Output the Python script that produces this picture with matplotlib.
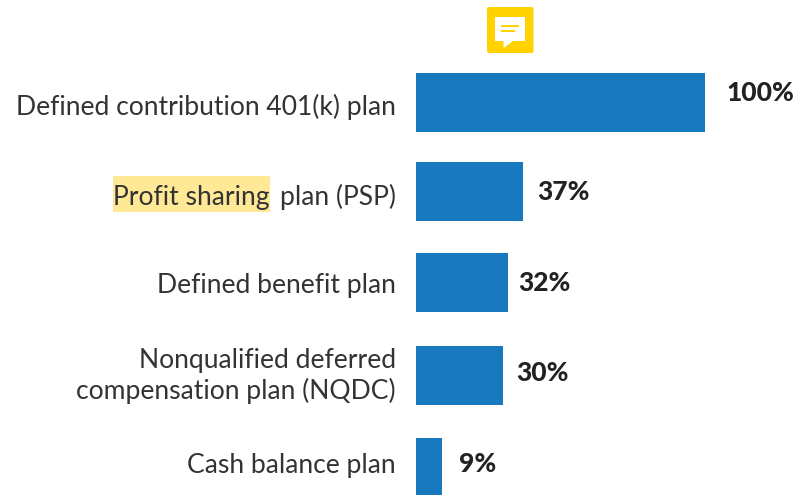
import matplotlib
matplotlib.use('Agg')
import matplotlib.pyplot as plt
from matplotlib.patches import FancyBboxPatch, Polygon, Rectangle
from matplotlib.transforms import Affine2D

labels = ['Defined contribution 401(k) plan', 'plan (PSP)', 'Defined benefit plan',
          'Nonqualified deferred\ncompensation plan (NQDC)', 'Cash balance plan']
values = [100, 37, 32, 30, 9]
value_labels = ['100%', '37%', '32%', '30%', '9%']
rows = [102.5, 191.5, 282.5, 375.5, 466.5]
heights = [59, 59, 59, 59, 57]
highlighted = 'Profit sharing'

# label placement, in pixels
label_y = [107, 197, 286, 376, 466]
value_y = [93, 192, 283, 373, 464]
value_gap = [21, 14, 10, 14, 17]

BLUE = '#1879BF'
INK = '#333333'
YELLOW = '#FFD200'
FS = 19.1

plt.rcParams['font.family'] = ['Lato', 'DejaVu Sans']

fig = plt.figure(figsize=(7.96, 4.95), dpi=100)
# axes fill the figure: y is in pixels from the top, x in percent with 0 at the bars' base
ax = fig.add_axes([0, 0, 1, 1])
px = 2.89
ax.set_xlim(-416 / px, (796 - 416) / px)
ax.set_ylim(495, 0)
ax.axis('off')

ax.barh(rows, values, height=heights, color=BLUE)

texts = []
for y, lab in zip(label_y, labels):
    texts.append(ax.text(-20 / px, y, lab, ha='right', va='center', fontsize=FS, color=INK, linespacing=1.23))

for y, v, t, g in zip(value_y, values, value_labels, value_gap):
    ax.text(v + g / px, y, t, ha='left', va='center', fontsize=19, fontweight=900, color='#222222')

# highlighted start of the second label
fig.canvas.draw()
r = fig.canvas.get_renderer()
left = texts[1].get_window_extent(r).x0
hl = ax.text(left - 10, 495 - label_y[1], highlighted, transform=None, ha='right', va='center',
             fontsize=FS, color=INK, zorder=3)
box = hl.get_window_extent(r)
ax.add_patch(Rectangle((box.x0, 495 - 212), box.width, 36, transform=None, color='#FFE896', lw=0, zorder=1.5))

# comment icon above the bars, pixels from the top left
top = Affine2D().scale(1, -1).translate(0, 495)
ax.add_patch(FancyBboxPatch((487, 7), 46.5, 46, boxstyle='round,pad=0,rounding_size=2',
                            color=YELLOW, lw=0, zorder=3, transform=top))
ax.add_patch(Polygon([(495, 17), (525, 17), (525, 41), (513, 41), (503.5, 48), (503.5, 41), (495, 41)],
                     closed=True, color='white', lw=0, zorder=4, transform=top))
ax.add_patch(Rectangle((501, 25), 18, 2, color=YELLOW, lw=0, zorder=5, transform=top))
ax.add_patch(Rectangle((501, 30), 14, 2, color=YELLOW, lw=0, zorder=5, transform=top))

fig.savefig('out.png', dpi=100)
